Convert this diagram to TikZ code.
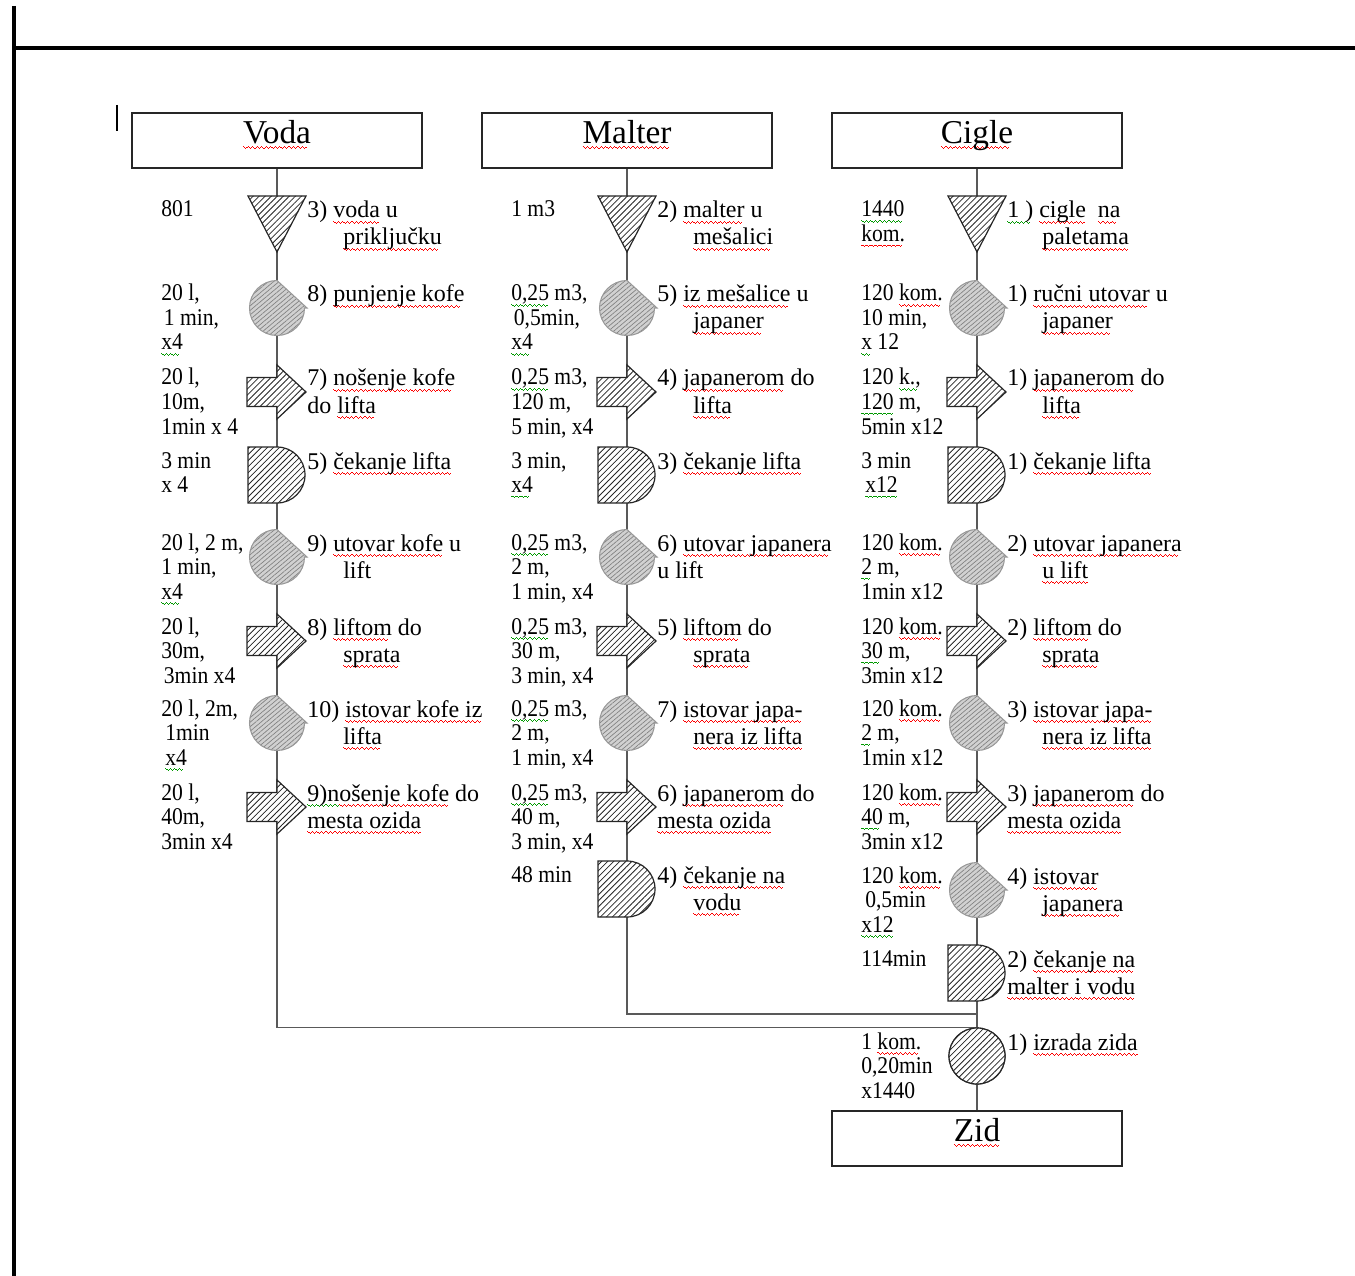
\documentclass[tikz,border=0pt]{standalone}
\usepackage{fontspec}
\setmainfont{Liberation Serif}
\newfontfamily\condfont{Liberation Serif}[FakeStretch=0.9]
\usetikzlibrary{patterns.meta}
\newsavebox\wbox
\newcommand\wcell{\rule[-3.0pt]{0.85pt}{0.55pt}\rule[-3.5pt]{0.85pt}{0.55pt}\rule[-4.0pt]{0.85pt}{0.55pt}\rule[-3.5pt]{0.85pt}{0.55pt}}
\newcommand\wv[2]{\sbox\wbox{#2}\rlap{\textcolor{#1}{\leaders\hbox{\wcell}\hskip\wd\wbox}}\usebox\wbox}
\newcommand\rw{\wv{red}}
\newcommand\gw{\wv{green!60!black}}
\newcommand\LL[4]{\foreach \lt [count=\i from 0] in {#4} {\node[llab] (#1-\i) at (#2,#3-7+24.5*\i) {\lt};}}
\newcommand\RA[4]{\node[rlab] (#1) at (#2,#3-6) {#4};}
\newcommand\RB[4]{\node[rlab] (#1) at (#2,#3+21) {#4};}
\tikzset{
  conn/.style={draw=black!65, line width=1.1pt},
  titlebox/.style={draw=black!85, line width=1.2pt, minimum width=217.5pt, minimum height=41.25pt, inner sep=0pt, font=\fontsize{25}{30}\selectfont, text height=17pt, text depth=13pt},
  hatchB/.style={draw=black!85, line width=0.9pt, preaction={fill=white}, pattern={Lines[angle=45,distance=3.2pt,line width=0.6pt]}, pattern color=black!85},
  hatchG/.style={draw=black!40, line width=0.8pt, preaction={fill=black!18}, pattern={Lines[angle=40,distance=2.6pt,line width=0.5pt]}, pattern color=black!50},
  llab/.style={font=\condfont\fontsize{18}{20}\selectfont, inner sep=0pt, anchor=base west},
  rlab/.style={font=\fontsize{18}{20}\selectfont, inner sep=0pt, anchor=base west},
  pTri/.pic={\path[hatchB] (-29,-28) -- (29,-28) -- (0,28) -- cycle;},
  pOp/.pic={\path[hatchG] (0,-27.5) arc[start angle=270,end angle=0,radius=27.5] -- (30,0) -- cycle;},
  pTrans/.pic={\path[hatchB] (-30,-14.5) -- (0,-14.5) -- (0,-27) -- (29,0) -- (0,27) -- (0,14.5) -- (-30,14.5) -- cycle;},
  pDelay/.pic={\path[hatchB] (-29,-28) -- (0,-28) arc[start angle=270,end angle=450,radius=28] -- (-29,28) -- cycle;}
}
\begin{document}
\begin{tikzpicture}[x=0.75pt,y=-0.75pt]
\useasboundingbox (0,0) rectangle (1355,1276);
% page frame
\draw[line width=3pt] (14,6) -- (14,1276);
\draw[line width=3pt] (12.5,48) -- (1355,48);
\draw[line width=2.2pt] (117,105) -- (117,131);
% boxes
\node[titlebox] (voda) at (277,140.5) {\rw{Voda}};
\node[titlebox] (malter) at (627,140.5) {\rw{Malter}};
\node[titlebox] (cigle) at (977,140.5) {\rw{Cigle}};
\node[titlebox] (zid) at (977,1138.5) {\rw{Zid}};
\node[circle, minimum size=42pt, inner sep=0pt, hatchB] (izrada) at (977,1056) {};
\coordinate (mj) at (977,1014);
% connectors
\draw[conn] (voda.south) |- (izrada.north);
\draw[conn] (malter.south) |- (mj);
\draw[conn] (cigle.south) -- (zid.north);
\node[circle, minimum size=42pt, inner sep=0pt, hatchB] at (izrada) {};
% symbols
\foreach \cx in {277,627,977} {
  \pic at (\cx,224) {pTri};
  \pic at (\cx,308) {pOp};
  \pic at (\cx,392) {pTrans};
  \pic at (\cx,475) {pDelay};
  \pic at (\cx,557) {pOp};
  \pic at (\cx,641) {pTrans};
  \pic at (\cx,723) {pOp};
  \pic at (\cx,807) {pTrans};
}
\pic at (627,889) {pDelay};
\pic at (977,890) {pOp};
\pic at (977,973) {pDelay};
% ---------- Voda labels
\LL{vL1}{161}{224}{{801}}
\RA{vR1a}{307}{224}{3) \rw{voda} u}
\RB{vR1b}{343}{224}{\rw{priključku}}
\LL{vL2}{161}{308}{{20 l,},{\hspace{2pt}1 min,},{\gw{x4}}}
\RA{vR2a}{307}{308}{8) \rw{punjenje kofe}}
\LL{vL3}{161}{392}{{20 l,},{10m,},{1min x 4}}
\RA{vR3a}{307}{392}{7) \rw{nošenje kofe}}
\RB{vR3b}{307}{392}{do \rw{lifta}}
\LL{vL4}{161}{475}{{3 min},{x 4}}
\RA{vR4a}{307}{475}{5) \rw{čekanje lifta}}
\LL{vL5}{161}{557}{{20 l, 2 m,},{1 min,},{\gw{x4}}}
\RA{vR5a}{307}{557}{9) \rw{utovar kofe} u}
\RB{vR5b}{343}{557}{lift}
\LL{vL6}{161}{641}{{20 l,},{30m,},{\hspace{2pt}3min x4}}
\RA{vR6a}{307}{641}{8) \rw{liftom} do}
\RB{vR6b}{343}{641}{\rw{sprata}}
\LL{vL7}{161}{723}{{20 l, 2m,},{\hspace{3pt}1min},{\hspace{3pt}\gw{x4}}}
\RA{vR7a}{307}{723}{10) \rw{istovar kofe iz}}
\RB{vR7b}{343}{723}{\rw{lifta}}
\LL{vL8}{161}{807}{{20 l,},{40m,},{3min x4}}
\RA{vR8a}{307}{807}{\gw{9)n}\rw{ošenje kofe} do}
\RB{vR8b}{307}{807}{\rw{mesta ozida}}
% ---------- Malter labels
\LL{mL1}{511}{224}{{1 m3}}
\RA{mR1a}{657}{224}{2) \rw{malter} u}
\RB{mR1b}{693}{224}{\rw{mešalici}}
\LL{mL2}{511}{308}{{\gw{0,25} m3,},{\hspace{2pt}0,5min,},{\gw{x4}}}
\RA{mR2a}{657}{308}{5) \rw{iz mešalice} u}
\RB{mR2b}{693}{308}{\rw{japaner}}
\LL{mL3}{511}{392}{{\gw{0,25} m3,},{120 m,},{5 min, x4}}
\RA{mR3a}{657}{392}{4) \rw{japanerom} do}
\RB{mR3b}{693}{392}{\rw{lifta}}
\LL{mL4}{511}{475}{{3 min,},{\gw{x4}}}
\RA{mR4a}{657}{475}{3) \rw{čekanje lifta}}
\LL{mL5}{511}{557}{{\gw{0,25} m3,},{2 m,},{1 min, x4}}
\RA{mR5a}{657}{557}{6) \rw{utovar japanera}}
\RB{mR5b}{657}{557}{u lift}
\LL{mL6}{511}{641}{{\gw{0,25} m3,},{30 m,},{3 min, x4}}
\RA{mR6a}{657}{641}{5) \rw{liftom} do}
\RB{mR6b}{693}{641}{\rw{sprata}}
\LL{mL7}{511}{723}{{\gw{0,25} m3,},{2 m,},{1 min, x4}}
\RA{mR7a}{657}{723}{7) \rw{istovar japa-}}
\RB{mR7b}{693}{723}{\rw{nera iz lifta}}
\LL{mL8}{511}{807}{{\gw{0,25} m3,},{40 m,},{3 min, x4}}
\RA{mR8a}{657}{807}{6) \rw{japanerom} do}
\RB{mR8b}{657}{807}{\rw{mesta ozida}}
\LL{mL9}{511}{889}{{48 min}}
\RA{mR9a}{657}{889}{4) \rw{čekanje na}}
\RB{mR9b}{693}{889}{\rw{vodu}}
% ---------- Cigle labels
\LL{cL1}{861}{224}{{\gw{1440}},{\rw{kom.}}}
\RA{cR1a}{1007}{224}{\gw{1 )} \rw{cigle}\ \ \rw{na}}
\RB{cR1b}{1042}{224}{\rw{paletama}}
\LL{cL2}{861}{308}{{120 \rw{kom.}},{10 min,},{\gw{x} 12}}
\RA{cR2a}{1007}{308}{1) \rw{ručni utovar} u}
\RB{cR2b}{1042}{308}{\rw{japaner}}
\LL{cL3}{861}{392}{{120 \gw{k.,}},{\gw{120} m,},{5min x12}}
\RA{cR3a}{1007}{392}{1) \rw{japanerom} do}
\RB{cR3b}{1042}{392}{\rw{lifta}}
\LL{cL4}{861}{475}{{3 min},{\hspace{3pt}\gw{x12}}}
\RA{cR4a}{1007}{475}{1) \rw{čekanje lifta}}
\LL{cL5}{861}{557}{{120 \rw{kom.}},{\gw{2} m,},{1min x12}}
\RA{cR5a}{1007}{557}{2) \rw{utovar japanera}}
\RB{cR5b}{1042}{557}{\rw{u lift}}
\LL{cL6}{861}{641}{{120 \rw{kom.}},{\gw{30} m,},{3min x12}}
\RA{cR6a}{1007}{641}{2) \rw{liftom} do}
\RB{cR6b}{1042}{641}{\rw{sprata}}
\LL{cL7}{861}{723}{{120 \rw{kom.}},{\gw{2} m,},{1min x12}}
\RA{cR7a}{1007}{723}{3) \rw{istovar japa-}}
\RB{cR7b}{1042}{723}{\rw{nera iz lifta}}
\LL{cL8}{861}{807}{{120 \rw{kom.}},{\gw{40} m,},{3min x12}}
\RA{cR8a}{1007}{807}{3) \rw{japanerom} do}
\RB{cR8b}{1007}{807}{\rw{mesta ozida}}
\LL{cL9}{861}{890}{{120 \rw{kom.}},{\hspace{3pt}0,5min},{\gw{x12}}}
\RA{cR9a}{1007}{890}{4) \rw{istovar}}
\RB{cR9b}{1042}{890}{\rw{japanera}}
\LL{cL10}{861}{973}{{114min}}
\RA{cR10a}{1007}{973}{2) \rw{čekanje na}}
\RB{cR10b}{1007}{973}{\rw{malter i vodu}}
\LL{cL11}{861}{1056}{{1 \rw{kom.}},{0,20min},{x1440}}
\RA{cR11a}{1007}{1056}{1) \rw{izrada zida}}
\end{tikzpicture}
\end{document}
